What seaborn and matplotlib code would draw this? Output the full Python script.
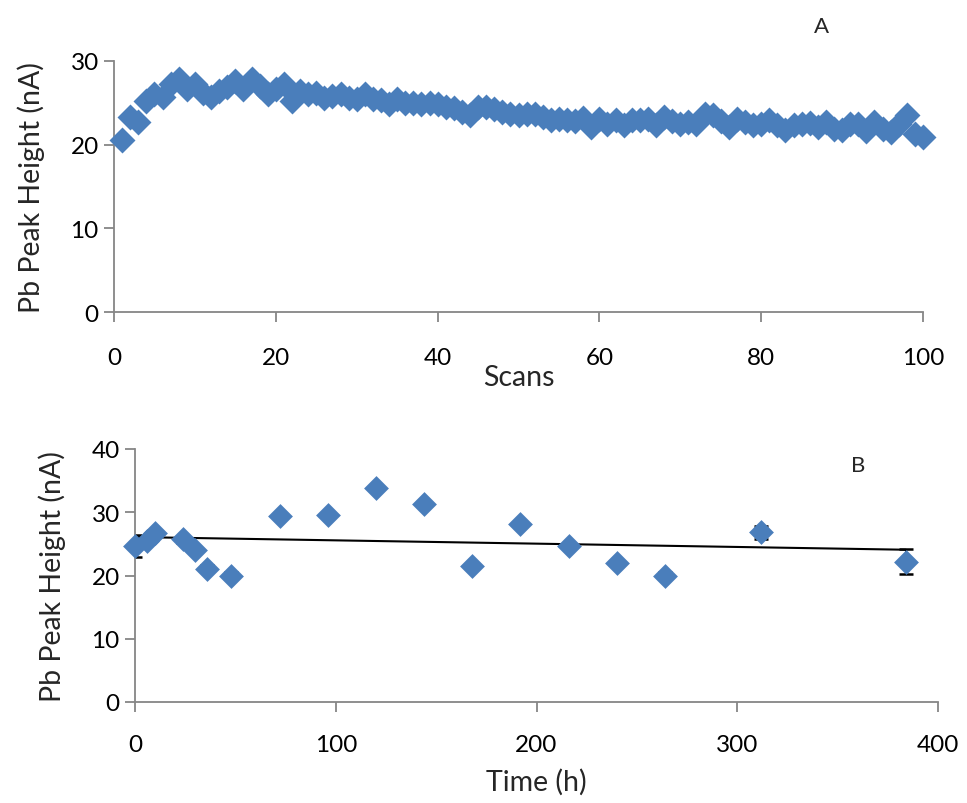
import numpy as np
import pandas as pd
import matplotlib
matplotlib.use("Agg")
import matplotlib.pyplot as plt
import seaborn as sns

# ---- Panel A data ----
scans = list(range(1, 101))
peak_a = [20.5, 23.3, 22.7, 25.2, 26.1, 25.7, 27.2, 27.8, 26.6, 27.2,
          26.2, 25.7, 26.4, 26.9, 27.6, 26.6, 27.8, 27.0, 26.0, 26.6,
          27.3, 25.2, 26.4, 26.0, 26.2, 25.6, 25.8, 26.0, 25.6, 25.4,
          26.0, 25.5, 25.3, 24.9, 25.4, 25.0, 25.0, 24.9, 25.0, 24.9,
          24.5, 24.4, 23.9, 23.5, 24.5, 24.5, 24.3, 23.9, 23.7, 23.5,
          23.7, 23.7, 23.3, 22.9, 23.1, 22.9, 22.8, 23.2, 22.1, 23.1,
          22.5, 22.9, 22.4, 22.9, 22.9, 23.1, 22.4, 23.3, 22.8, 22.5,
          22.7, 22.5, 23.7, 23.5, 22.8, 22.1, 23.1, 22.7, 22.4, 22.5,
          22.9, 22.3, 21.7, 22.3, 22.5, 22.6, 22.1, 22.7, 21.9, 21.7,
          22.5, 22.5, 21.6, 22.7, 21.9, 21.5, 22.5, 23.6, 21.3, 20.9]

# ---- Panel B data ----
time_h = [0, 6, 10, 24, 30, 36, 48, 72, 96, 120, 144, 168, 192, 216, 240, 264, 312, 384]
peak_b = [24.7, 25.5, 26.7, 25.7, 24.0, 21.1, 20.0, 29.4, 29.6, 33.8, 31.3,
          21.5, 28.1, 24.7, 22.0, 20.0, 26.8, 22.2]
err_b = [1.7, 0.5, 0.5, 0.5, 0.5, 0.5, 0.5, 0.5, 0.5, 0.5, 0.5,
         0.5, 0.5, 0.5, 0.5, 0.5, 1.0, 1.95]

xticks_a = [0, 20, 40, 60, 80, 100]
yticks_a = [0, 10, 20, 30]
xticks_b = [0, 100, 200, 300, 400]
yticks_b = [0, 10, 20, 30, 40]

df_a = pd.DataFrame({"Scans": scans, "Peak": peak_a})
df_b = pd.DataFrame({"Time": time_h, "Peak": peak_b, "Err": err_b})

sns.set_theme(style="white")
plt.rcParams["font.family"] = ["Lato", "DejaVu Sans"]

blue = "#4A7EBB"
axis_gray = "#868686"
tfs = 17.5
lfs = 20.5

fig = plt.figure(figsize=(9.67, 8.04), dpi=100)
W, H = 967, 804

def add_ax(l, r, t, b):
    return fig.add_axes([l / W, 1 - b / H, (r - l) / W, (b - t) / H])

ax1 = add_ax(114, 923, 62, 313)
ax2 = add_ax(135, 938, 450, 703)

# Panel A
sns.scatterplot(data=df_a, x="Scans", y="Peak", ax=ax1, marker="D", s=175,
                color=blue, edgecolor=blue, linewidth=0, zorder=3, clip_on=False)
ax1.set_xlim(0, 100)
ax1.set_ylim(0, 30)
ax1.set_xticks(xticks_a)
ax1.set_yticks(yticks_a)
ax1.set_xlabel("Scans", fontsize=lfs, labelpad=-3)
ax1.set_ylabel("Pb Peak Height (nA)", fontsize=lfs, labelpad=18)

# Panel B
ax2.errorbar(df_b["Time"], df_b["Peak"], yerr=df_b["Err"], fmt="none",
             ecolor="black", elinewidth=1.3, capsize=5, capthick=1.8, zorder=2)
sns.regplot(data=df_b, x="Time", y="Peak", ax=ax2, scatter=False, ci=None,
            truncate=True, line_kws={"color": "black", "lw": 1.5, "zorder": 2})
sns.scatterplot(data=df_b, x="Time", y="Peak", ax=ax2, marker="D", s=160,
                color=blue, edgecolor=blue, linewidth=0, zorder=3, clip_on=False)
ax2.set_xlim(0, 400)
ax2.set_ylim(0, 40)
ax2.set_xticks(xticks_b)
ax2.set_yticks(yticks_b)
ax2.set_xlabel("Time (h)", fontsize=lfs, labelpad=9)
ax2.set_ylabel("Pb Peak Height (nA)", fontsize=lfs, labelpad=18)

for ax in (ax1, ax2):
    for side in ("top", "right"):
        ax.spines[side].set_visible(False)
    for side in ("left", "bottom"):
        ax.spines[side].set_color(axis_gray)
        ax.spines[side].set_linewidth(1.3)
    ax.tick_params(axis="both", direction="out", length=7, width=1.3,
                   color=axis_gray, labelsize=tfs, labelcolor="black",
                   left=True, bottom=True)
    ax.tick_params(axis="x", pad=18)
    ax.tick_params(axis="y", pad=4)
    ax.set_facecolor("none")
ax2.tick_params(axis="x", pad=16)

fig.text(822 / W, 1 - 27 / H, "A", fontsize=16, ha="center", va="center")
fig.text(858 / W, 1 - 466 / H, "B", fontsize=16, ha="center", va="center")

fig.savefig("out.png", dpi=100, facecolor="white")
